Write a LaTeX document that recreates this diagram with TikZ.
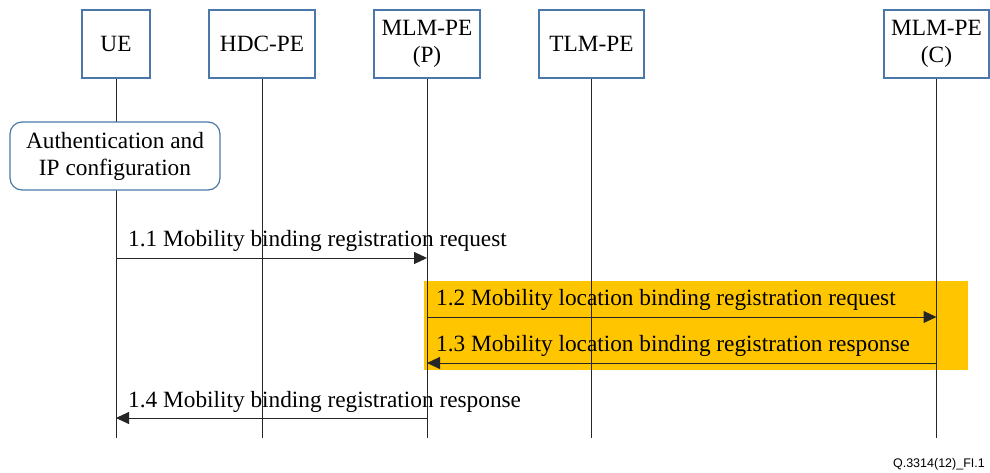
\documentclass[tikz,border=0pt]{standalone}
\usepackage{fontspec}
\setmainfont{Liberation Serif}
\newfontfamily\footfont{Liberation Sans}
\usetikzlibrary{arrows.meta}
\definecolor{boxblue}{RGB}{74,120,168}
\definecolor{hiyellow}{RGB}{255,198,0}
\begin{document}
\begin{tikzpicture}[x=1pt,y=-1pt,
  txt/.style={font=\fontsize{23.3}{27}\selectfont, inner sep=0pt},
  entity/.style={draw=boxblue, line width=1.2pt, fill=white, align=center,
     font=\fontsize{23.3}{27}\selectfont, minimum height=68pt, inner sep=0pt},
  life/.style={draw=black!85, line width=1pt},
  msg/.style={draw=black!85, line width=1pt, -{Triangle[length=13pt,width=12pt]}},
  msglabel/.style={txt, anchor=base west}]
\useasboundingbox (0,0) rectangle (990,472);

% highlight
\fill[hiyellow] (424,281) rectangle (968,370);

% entities
\node[entity, minimum width=68pt] (ue) at (116,44) {UE};
\node[entity, minimum width=106pt] (hdc) at (262,44) {HDC-PE};
\node[entity, minimum width=106pt] (mlmp) at (427,44) {MLM-PE\\(P)};
\node[entity, minimum width=105pt] (tlm) at (591.5,44) {TLM-PE};
\node[entity, minimum width=105pt] (mlmc) at (936.5,44) {MLM-PE\\(C)};

% lifeline ends
\coordinate (ueE) at (116,438);
\coordinate (hdcE) at (262,438);
\coordinate (mlmpE) at (427,438);
\coordinate (tlmE) at (591.5,438);
\coordinate (mlmcE) at (936.5,438);
\draw[life] (ue.south) -- (ueE);
\draw[life] (hdc.south) -- (hdcE);
\draw[life] (mlmp.south) -- (mlmpE);
\draw[life] (tlm.south) -- (tlmE);
\draw[life] (mlmc.south) -- (mlmcE);

% auth box
\node[draw=boxblue, line width=1.2pt, fill=white, rounded corners=12pt,
  minimum width=210pt, minimum height=68pt, align=center, inner sep=0pt,
  font=\fontsize{23.3}{27}\selectfont] (auth) at (115,156)
  {Authentication and\\IP configuration};

% message points
\coordinate (m1a) at (116,258);  \coordinate (m1b) at (427,258);
\coordinate (m2a) at (427,317);  \coordinate (m2b) at (936.5,317);
\coordinate (m3a) at (936.5,363);\coordinate (m3b) at (427,363);
\coordinate (m4a) at (427,418);  \coordinate (m4b) at (116,418);

\draw[msg] (m1a) -- (m1b);
\draw[msg] (m2a) -- (m2b);
\draw[msg] (m3a) -- (m3b);
\draw[msg] (m4a) -- (m4b);

\node[msglabel] (l1) at (128,246) {1.1 Mobility binding registration request};
\node[msglabel] (l2) at (436,305) {1.2 Mobility location binding registration request};
\node[msglabel] (l3) at (436,351) {1.3 Mobility location binding registration response};
\node[msglabel] (l4) at (128,407) {1.4 Mobility binding registration response};

\node[anchor=base east, inner sep=0pt, font=\footfont\fontsize{12.5}{14}\selectfont] (fig) at (985,467) {Q.3314(12)\_FI.1};
\end{tikzpicture}
\end{document}
